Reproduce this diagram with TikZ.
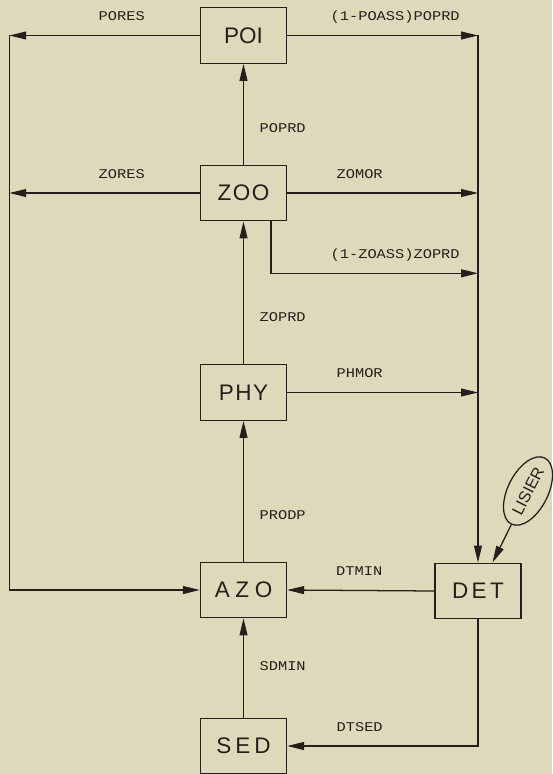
\documentclass[tikz,border=0pt]{standalone}
\usepackage{fontspec}
\usepackage{tikz}
\usetikzlibrary{arrows.meta,shapes.geometric}
\newfontfamily\boxsans{Liberation Sans}
\newfontfamily\labmono[FakeStretch=1.15]{Liberation Mono}
\definecolor{Paper}{RGB}{223,217,187}
\definecolor{Ink}{RGB}{38,30,26}

\begin{document}
\begin{tikzpicture}[
  x=0.025cm, y=-0.025cm,
  compartment/.style={
    draw=Ink,
    text=Ink,
    minimum width=2.15cm,
    minimum height=1.39cm,
    inner sep=0pt,
    line width=0.9pt,
    font=\boxsans\fontsize{16}{18}\selectfont
  },
  source/.style={
    draw=Ink,
    text=Ink,
    ellipse,
    minimum width=1.85cm,
    minimum height=1.0cm,
    inner sep=0pt,
    line width=0.9pt,
    font=\boxsans\fontsize{11.5}{12}\selectfont
  },
  arr/.style={-{Triangle[length=12pt,width=5.6pt]}, draw=Ink, line width=0.9pt},
  lab/.style={text=Ink,inner sep=0pt,text height=6.2pt,text depth=0pt,
    font=\labmono\fontsize{9.5}{11}\selectfont},
  hlab/.style={lab,yshift=13.5pt},
  vlab/.style={lab,right=11pt}
]
\useasboundingbox (0,0) rectangle (552,774);
\fill[Paper] (0,0) rectangle (552,774);

\node[compartment] (poi) at (243.5,35.5) {POI};
\node[compartment] (zoo) at (243.5,193) {Z\kern1pt O\kern1pt O};
\node[compartment] (phy) at (243.5,392.5) {P\kern1pt H\kern1pt Y};
\node[compartment] (azo) at (243.5,590) {A\kern4pt Z\kern4pt O};
\node[compartment] (det) at (478,591) {D\kern2.4pt E\kern2.4pt T};
\node[compartment] (sed) at (243.5,746) {S\kern2.9pt E\kern2.9pt D};
\node[source,rotate=63] (lisier) at (528,491) {LISIER};

% corners of the two collecting lines
\coordinate (lt) at (9.3,35.5);
\coordinate (lz) at (9.3,193);
\coordinate (rt) at (478,35.5);
\coordinate (rz) at (478,193);
\coordinate (rzo) at (478,273.3);
\coordinate (rp) at (478,392.5);

% respiration, to the left
\draw[arr] (poi.west) --
  node[hlab,pos=0.41] (pores) {PORES}
  (lt);
\draw[arr] (zoo.west) --
  node[hlab,pos=0.41] (zores) {ZORES}
  (lz);
\draw[arr] (lt) |- (azo.west);

% losses to detritus, to the right
\draw[arr] (poi.east) --
  node[hlab,pos=0.566] (poass) {(1-POASS)POPRD}
  (rt);
\draw[arr] (zoo.east) --
  node[hlab,pos=0.38] (zomor) {ZOMOR}
  (rz);
\draw[arr] ([xshift=0.685cm]zoo.south) |-
  node[hlab,pos=0.8] (zoass) {(1-ZOASS)ZOPRD}
  (rzo);
\draw[arr] (phy.east) --
  node[hlab,pos=0.38] (phmor) {PHMOR}
  (rp);
\draw[arr] (rt) -- (rt |- det.north);
\draw[arr] (lisier) -- (det.63);

% food chain
\draw[arr] (zoo.north) --
  node[vlab,pos=0.36] (poprd) {POPRD}
  (poi.south);
\draw[arr] (phy.north) --
  node[vlab,pos=0.33] (zoprd) {ZOPRD}
  (zoo.south);
\draw[arr] (azo.north) --
  node[vlab,pos=0.33] (prodp) {PRODP}
  (phy.south);
\draw[arr] (sed.north) --
  node[vlab,pos=0.52] (sdmin) {SDMIN}
  (azo.south);

% mineralisation
\draw[arr] (det.west) --
  node[hlab,pos=0.51] (dtmin) {DTMIN}
  (azo.east);
\draw[arr] (det.south) |-
  node[hlab,pos=0.81] (dtsed) {DTSED}
  (sed.east);
\end{tikzpicture}
\end{document}
